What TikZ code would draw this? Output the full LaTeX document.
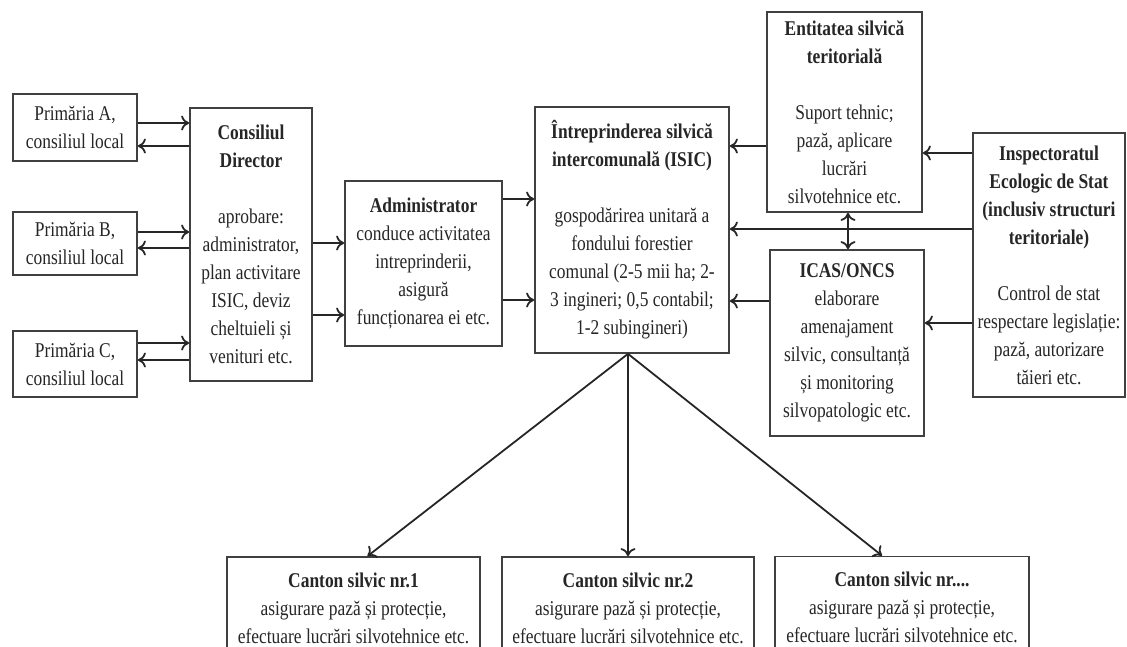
\documentclass[tikz,border=0pt]{standalone}
\usepackage{fontspec}
\setmainfont[FakeStretch=0.83]{Liberation Serif}
\usetikzlibrary{arrows.meta}
\begin{document}
\begin{tikzpicture}[x=1pt,y=-1pt,
  box/.style={draw=black!75, line width=1.7pt, fill=white, align=center, inner sep=2pt,
    font=\fontsize{21}{28}\selectfont, text=black!85},
  arr/.style={-{To[length=8pt,width=15pt]}, line width=1.8pt, draw=black!85},
  darr/.style={{To[length=8pt,width=15pt]}-{To[length=8pt,width=15pt]}, line width=1.8pt, draw=black!85},
  line/.style={line width=1.8pt, draw=black!85}]
\useasboundingbox (0,0) rectangle (1127,646);
\clip (0,0) rectangle (1127,646);
% boxes
\node[box, minimum width=124pt, minimum height=67pt] (PA) at (75,127.5) {Primăria A,\\consiliul local};
\node[box, minimum width=124pt, minimum height=63pt] (PB) at (75,243.5) {Primăria B,\\consiliul local};
\node[box, minimum width=124pt, minimum height=66pt] (PC) at (75,364) {Primăria C,\\consiliul local};
\node[box, minimum width=122pt, minimum height=273pt] (CD) at (251,244.5)
  {\textbf{Consiliul}\\\textbf{Director}\\[28pt]aprobare:\\administrator,\\plan activitare\\ISIC, deviz\\cheltuieli și\\venituri etc.};
\node[box, minimum width=157pt, minimum height=165pt] (AD) at (423.5,263.5)
  {\textbf{Administrator}\\conduce activitatea\\intreprinderii,\\asigură\\funcționarea ei etc.};
\node[box, minimum width=194pt, minimum height=246pt] (IS) at (632,230)
  {\textbf{Întreprinderea silvică}\\\textbf{intercomunală (ISIC)}\\[28pt]gospodărirea unitară a\\fondului forestier\\comunal (2-5 mii ha; 2-\\3 ingineri; 0,5 contabil;\\1-2 subingineri)};
\node[box, minimum width=155pt, minimum height=200pt] (EN) at (844.5,112)
  {\textbf{Entitatea silvică}\\\textbf{teritorială}\\[28pt]Suport tehnic;\\pază, aplicare\\lucrări\\silvotehnice etc.};
\node[box, minimum width=154pt, minimum height=186pt] (IC) at (847,343)
  {\textbf{ICAS/ONCS}\\elaborare\\amenajament\\silvic, consultanță\\și monitoring\\silvopatologic etc.};
\node[box, minimum width=152pt, minimum height=264pt] (IN) at (1049,265)
  {\textbf{Inspectoratul}\\\textbf{Ecologic de Stat}\\\textbf{(inclusiv structuri}\\\textbf{teritoriale)}\\[28pt]Control de stat\\respectare legislație:\\pază, autorizare\\tăieri etc.};
\node[box, minimum width=253pt, minimum height=102pt] (C1) at (353.5,608)
  {\textbf{Canton silvic nr.1}\\asigurare pază și protecție,\\efectuare lucrări silvotehnice etc.};
\node[box, minimum width=252pt, minimum height=102pt] (C2) at (628,608)
  {\textbf{Canton silvic nr.2}\\asigurare pază și protecție,\\efectuare lucrări silvotehnice etc.};
\node[box, minimum width=254pt, minimum height=102pt] (C3) at (902,607.5)
  {\textbf{Canton silvic nr....}\\asigurare pază și protecție,\\efectuare lucrări silvotehnice etc.};
% levels
\coordinate (yA1) at (0,123); \coordinate (yA2) at (0,146);
\coordinate (yB1) at (0,232); \coordinate (yB2) at (0,248);
\coordinate (yC1) at (0,343); \coordinate (yC2) at (0,360);
\coordinate (yD1) at (0,243); \coordinate (yD2) at (0,315);
\coordinate (yE1) at (0,199); \coordinate (yE2) at (0,300);
\coordinate (yF1) at (0,146); \coordinate (yF2) at (0,229); \coordinate (yF3) at (0,301);
\coordinate (yG1) at (0,153); \coordinate (yG2) at (0,323);
\coordinate (x848) at (848,0);
% arrows
\draw[arr] (PA.east |- yA1) -- (CD.west |- yA1);
\draw[arr] (CD.west |- yA2) -- (PA.east |- yA2);
\draw[arr] (PB.east |- yB1) -- (CD.west |- yB1);
\draw[arr] (CD.west |- yB2) -- (PB.east |- yB2);
\draw[arr] (PC.east |- yC1) -- (CD.west |- yC1);
\draw[arr] (CD.west |- yC2) -- (PC.east |- yC2);
\draw[arr] (CD.east |- yD1) -- (AD.west |- yD1);
\draw[arr] (CD.east |- yD2) -- (AD.west |- yD2);
\draw[arr] (AD.east |- yE1) -- (IS.west |- yE1);
\draw[arr] (AD.east |- yE2) -- (IS.west |- yE2);
\draw[arr] (EN.west |- yF1) -- (IS.east |- yF1);
\draw[arr] (IN.west |- yF2) -- (IS.east |- yF2);
\draw[arr] (IC.west |- yF3) -- (IS.east |- yF3);
\draw[arr] (IN.west |- yG1) -- (EN.east |- yG1);
\draw[arr] (IN.west |- yG2) -- (IC.east |- yG2);
\draw[darr] (EN.south -| x848) -- (IC.north -| x848);
\draw[arr] ([xshift=-4pt]IS.south) -- ([xshift=14pt]C1.north);
\draw[arr] ([xshift=-4pt]IS.south) -- (C2.north);
\draw[arr] ([xshift=-4pt]IS.south) -- ([xshift=-20pt]C3.north);
\end{tikzpicture}
\end{document}
